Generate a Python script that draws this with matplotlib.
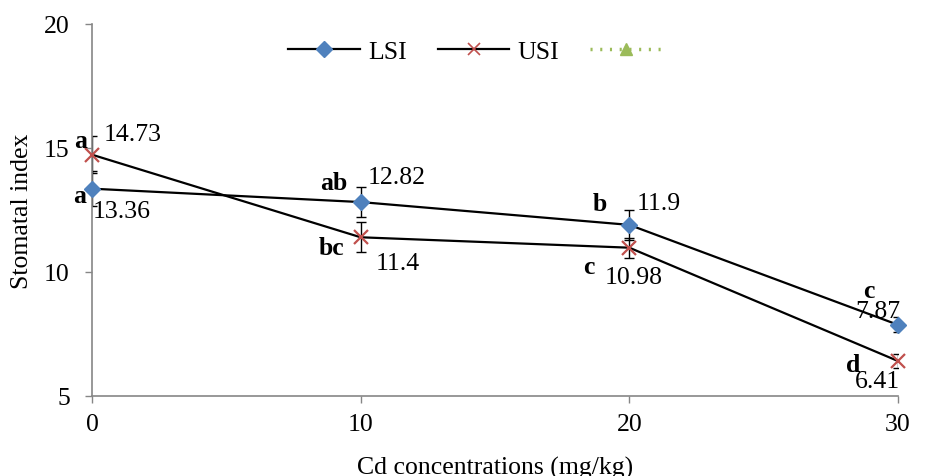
import matplotlib
matplotlib.use("Agg")
import matplotlib.pyplot as plt
from matplotlib.lines import Line2D

# ---- data ----
conc = [0, 10, 20, 30]
lsi = [13.36, 12.82, 11.9, 7.87]
usi = [14.73, 11.4, 10.98, 6.41]
lsi_err = [0.7, 0.6, 0.6, 0.3]
usi_err = [0.75, 0.6, 0.4, 0.3]
lsi_letters = ["a", "ab", "b", "c"]
usi_letters = ["a", "bc", "c", "d"]
y_ticks = [5, 10, 15, 20]
x_ticks = [0, 10, 20, 30]

plt.rcParams['font.family'] = ['Liberation Serif', 'DejaVu Serif']
FS = 18.5

fig = plt.figure(figsize=(9.31, 4.77), dpi=100)
ax = fig.add_axes([92/931, 1-397/477, (898-92)/931, (397-25)/477])

spine_c = '#868686'
blue = '#4F81BD'
red = '#C0504D'
green = '#9BBB59'

# error bars (clipped to the axes, like the reference)
ax.errorbar(conc, lsi, yerr=lsi_err, fmt='none', ecolor='black',
            elinewidth=1.0, capsize=3.8, capthick=1.0, zorder=2)
ax.errorbar(conc, usi, yerr=usi_err, fmt='none', ecolor='black',
            elinewidth=1.0, capsize=3.8, capthick=1.0, zorder=2)

# lines + markers
ax.plot(conc, lsi, color='black', lw=1.6, marker='D', markersize=8.5,
        markerfacecolor=blue, markeredgecolor=blue, zorder=3, clip_on=False)
ax.plot(conc, usi, color='black', lw=1.6, marker='x', markersize=10,
        markeredgecolor=red, markeredgewidth=1.6, zorder=3, clip_on=False)

ax.set_xlim(0, 30)
ax.set_ylim(5, 20)
ax.set_xticks(x_ticks)
ax.set_yticks(y_ticks)
ax.tick_params(axis='both', labelsize=FS, colors='black', length=5, width=1,
               color=spine_c)
ax.tick_params(axis='x', pad=7)
ax.tick_params(axis='y', pad=11)
for s in ['top', 'right']:
    ax.spines[s].set_visible(False)
for s in ['left', 'bottom']:
    ax.spines[s].set_color(spine_c)
    ax.spines[s].set_linewidth(1.2)

ax.set_ylabel("Stomatal index", fontsize=FS, labelpad=8)
ax.set_xlabel("Cd concentrations (mg/kg)", fontsize=FS, labelpad=15)

# value labels (offsets in pixels)
lsi_val_off = [(1, -22), (7, 25), (7, 22), (-43, 14)]
usi_val_off = [(12, 21), (15, -26), (-25, -29), (-43, -20)]
for x, y, (dx, dy) in zip(conc, lsi, lsi_val_off):
    ax.annotate(f"{y:g}", (x, y), xytext=(dx, dy), textcoords='offset pixels',
                ha='left', va='center', fontsize=FS, annotation_clip=False)
for x, y, (dx, dy) in zip(conc, usi, usi_val_off):
    ax.annotate(f"{y:g}", (x, y), xytext=(dx, dy), textcoords='offset pixels',
                ha='left', va='center', fontsize=FS, annotation_clip=False)

lsi_let_off = [(-6, -7), (-13, 20), (-22, 21), (-23, 34)]
usi_let_off = [(-5, 14), (-16, -10), (-35, -19), (-38, -3)]
for x, y, t, (dx, dy) in zip(conc, lsi, lsi_letters, lsi_let_off):
    ax.annotate(t, (x, y), xytext=(dx, dy), textcoords='offset pixels',
                ha='right', va='center', fontsize=FS, fontweight='bold',
                annotation_clip=False)
for x, y, t, (dx, dy) in zip(conc, usi, usi_letters, usi_let_off):
    ax.annotate(t, (x, y), xytext=(dx, dy), textcoords='offset pixels',
                ha='right', va='center', fontsize=FS, fontweight='bold',
                annotation_clip=False)

handles = [
    Line2D([], [], color='black', lw=1.6, marker='D', markersize=8,
           markerfacecolor=blue, markeredgecolor=blue),
    Line2D([], [], color='black', lw=1.6, marker='x', markersize=9,
           markeredgecolor=red, markeredgewidth=1.2),
    Line2D([], [], color=green, lw=2.5, ls=(0, (0.6, 2.2)), marker='^',
           markersize=9, markerfacecolor=green, markeredgecolor=green),
]
ax.legend(handles, ["LSI", "USI", ""], loc='upper center',
          bbox_to_anchor=(0.48, 1.02), ncol=3, frameon=False, fontsize=FS,
          handlelength=2.8, columnspacing=1.2, handletextpad=0.3)

fig.savefig("out.png", dpi=100)
